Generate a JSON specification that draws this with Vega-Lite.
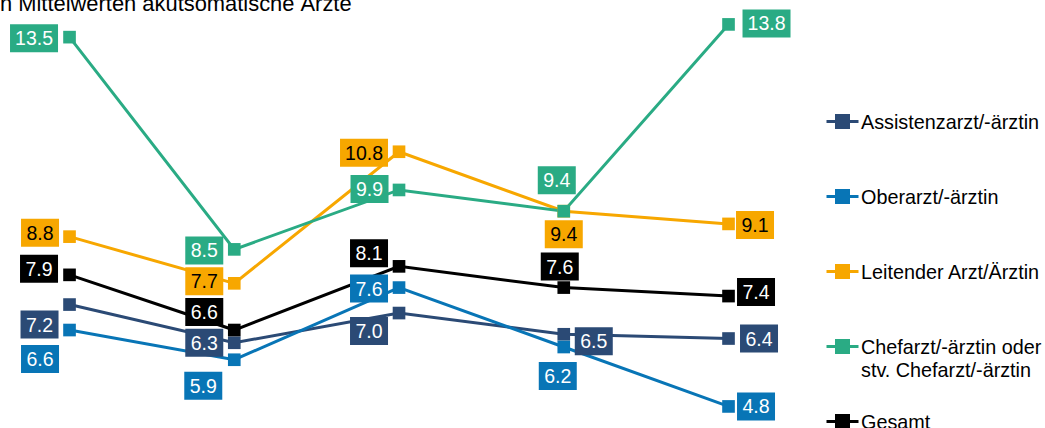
{
  "$schema": "https://vega.github.io/schema/vega-lite/v6.json",
  "width": 1045,
  "height": 428,
  "autosize": "none",
  "padding": 0,
  "background": "white",
  "config": {"view": {"stroke": null}, "font": "Liberation Sans"},
  "params": [
    {"name": "labelDx", "value": {
      "Assistenzarzt/-ärztin": [-30, -30, -30, 30, 30.5],
      "Oberarzt/-ärztin": [-29.5, -31, -30, -6, 27.5],
      "Leitender Arzt/Ärztin": [-29.5, -30, -35, 0, 26.5],
      "Chefarzt/-ärztin oder stv. Chefarzt/-ärztin": [-35.5, -30, -29.5, -7, 38],
      "Gesamt": [-30.5, -30, -30, -4, 27.5]
    }},
    {"name": "labelDy", "value": {
      "Assistenzarzt/-ärztin": [20, 0, 18, 7, 0],
      "Oberarzt/-ärztin": [29, 26, 1, 29, 0],
      "Leitender Arzt/Ärztin": [-4, -2, 1, 23, 1],
      "Chefarzt/-ärztin oder stv. Chefarzt/-ärztin": [1, 1, -1, -31, -1],
      "Gesamt": [-6, -18, -13, -21, -4]
    }}
  ],
  "datasets": {
    "werte": [
      {"serie": "Assistenzarzt/-ärztin", "t": 1, "wert": 7.2},
      {"serie": "Assistenzarzt/-ärztin", "t": 2, "wert": 6.3},
      {"serie": "Assistenzarzt/-ärztin", "t": 3, "wert": 7.0},
      {"serie": "Assistenzarzt/-ärztin", "t": 4, "wert": 6.5},
      {"serie": "Assistenzarzt/-ärztin", "t": 5, "wert": 6.4},
      {"serie": "Oberarzt/-ärztin", "t": 1, "wert": 6.6},
      {"serie": "Oberarzt/-ärztin", "t": 2, "wert": 5.9},
      {"serie": "Oberarzt/-ärztin", "t": 3, "wert": 7.6},
      {"serie": "Oberarzt/-ärztin", "t": 4, "wert": 6.2},
      {"serie": "Oberarzt/-ärztin", "t": 5, "wert": 4.8},
      {"serie": "Leitender Arzt/Ärztin", "t": 1, "wert": 8.8},
      {"serie": "Leitender Arzt/Ärztin", "t": 2, "wert": 7.7},
      {"serie": "Leitender Arzt/Ärztin", "t": 3, "wert": 10.8},
      {"serie": "Leitender Arzt/Ärztin", "t": 4, "wert": 9.4},
      {"serie": "Leitender Arzt/Ärztin", "t": 5, "wert": 9.1},
      {"serie": "Chefarzt/-ärztin oder stv. Chefarzt/-ärztin", "t": 1, "wert": 13.5},
      {"serie": "Chefarzt/-ärztin oder stv. Chefarzt/-ärztin", "t": 2, "wert": 8.5},
      {"serie": "Chefarzt/-ärztin oder stv. Chefarzt/-ärztin", "t": 3, "wert": 9.9},
      {"serie": "Chefarzt/-ärztin oder stv. Chefarzt/-ärztin", "t": 4, "wert": 9.4},
      {"serie": "Chefarzt/-ärztin oder stv. Chefarzt/-ärztin", "t": 5, "wert": 13.8},
      {"serie": "Gesamt", "t": 1, "wert": 7.9},
      {"serie": "Gesamt", "t": 2, "wert": 6.6},
      {"serie": "Gesamt", "t": 3, "wert": 8.1},
      {"serie": "Gesamt", "t": 4, "wert": 7.6},
      {"serie": "Gesamt", "t": 5, "wert": 7.4}
    ],
    "kopf": [
      {"titel": "n Mittelwerten akutsomatische Ärzte", "t": 0.578, "wert": 14.116}
    ]
  },
  "layer": [
    {
      "data": {"name": "werte"},
      "encoding": {
        "x": {"field": "t", "type": "quantitative", "scale": {"domain": [0.578, 6.921], "nice": false, "zero": false}, "axis": null},
        "y": {"field": "wert", "type": "quantitative", "scale": {"domain": [4.292, 14.375], "nice": false, "zero": false}, "axis": null}
      },
      "layer": [
        {
          "mark": {"type": "line", "strokeWidth": 3},
          "encoding": {
            "color": {
              "field": "serie", "type": "nominal",
              "scale": {
                "domain": ["Assistenzarzt/-ärztin", "Oberarzt/-ärztin", "Leitender Arzt/Ärztin", "Chefarzt/-ärztin oder stv. Chefarzt/-ärztin", "Gesamt"],
                "range": ["#2b4a75", "#0875b6", "#f7a700", "#2aab84", "#000000"]
              },
              "legend": {
                "orient": "none", "legendX": 825, "legendY": 104, "title": null, "padding": 0,
                "symbolType": "M-1,0H1M-0.375,-0.375H0.375V0.375H-0.375Z",
                "symbolSize": 1024, "symbolStrokeWidth": 3,
                "labelFont": "Liberation Sans", "labelFontSize": 19.8, "labelColor": "#000000",
                "labelOffset": 1, "labelLimit": 400, "rowPadding": 23,
                "labelBaseline": "alphabetic",
                "labelExpr": "datum.label == 'Chefarzt/-ärztin oder stv. Chefarzt/-ärztin' ? ['Chefarzt/-ärztin oder', 'stv. Chefarzt/-ärztin'] : [datum.label, ' ']",
                "encode": {
                  "symbols": {"update": {"fill": {"scale": "color", "field": "value"}, "stroke": {"scale": "color", "field": "value"}, "opacity": {"value": 1}}},
                  "labels": {"update": {"dy": {"value": 7}, "lineHeight": {"value": 23.5}}}
                }
              }
            }
          }
        },
        {
          "mark": {"type": "point", "shape": "square", "filled": true, "size": 160, "opacity": 1},
          "encoding": {"color": {"field": "serie", "type": "nominal"}}
        },
        {
          "mark": {
            "type": "rect",
            "xOffset": {"expr": "labelDx[datum.serie][datum.t-1] - (datum.wert >= 10 ? 24 : 19)"},
            "x2Offset": {"expr": "labelDx[datum.serie][datum.t-1] + (datum.wert >= 10 ? 24 : 19)"},
            "yOffset": {"expr": "labelDy[datum.serie][datum.t-1] - 14"},
            "y2Offset": {"expr": "labelDy[datum.serie][datum.t-1] + 14"}
          },
          "encoding": {
            "x2": {"field": "t"},
            "y2": {"field": "wert"},
            "color": {"field": "serie", "type": "nominal"}
          }
        },
        {
          "mark": {
            "type": "text",
            "font": "Liberation Sans",
            "fontSize": 19.5,
            "align": "center",
            "baseline": "alphabetic",
            "dx": {"expr": "labelDx[datum.serie][datum.t-1]"},
            "dy": {"expr": "labelDy[datum.serie][datum.t-1] + 7"},
            "fill": {"expr": "datum.serie == 'Leitender Arzt/Ärztin' ? '#000000' : '#ffffff'"}
          },
          "encoding": {
            "text": {"field": "wert", "type": "quantitative", "format": ".1f"}
          }
        }
      ]
    },
    {
      "data": {"name": "kopf"},
      "mark": {"type": "text", "font": "Liberation Sans", "fontSize": 21.9, "align": "left", "baseline": "alphabetic", "color": "#000000"},
      "encoding": {
        "x": {"field": "t", "type": "quantitative"},
        "y": {"field": "wert", "type": "quantitative"},
        "text": {"field": "titel", "type": "nominal"}
      }
    }
  ]
}
